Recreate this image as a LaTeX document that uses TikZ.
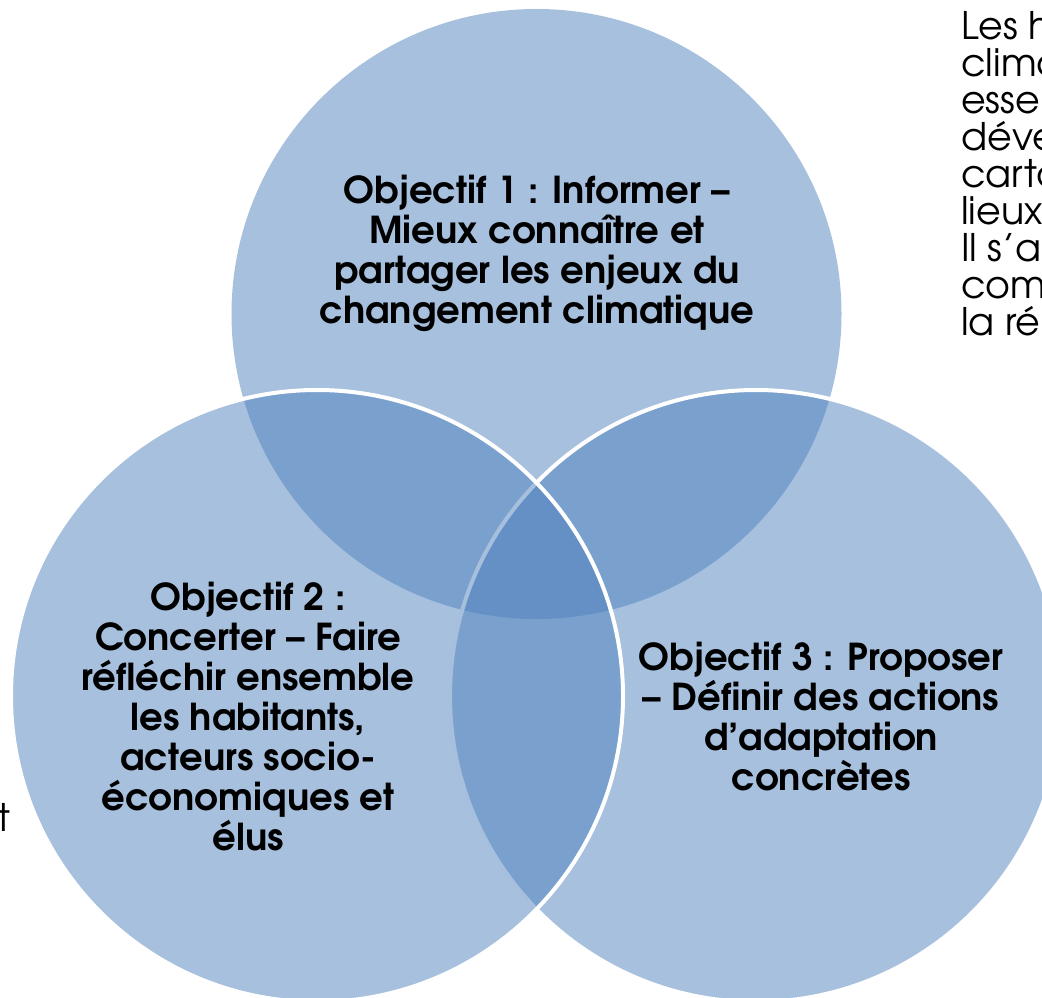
\documentclass[tikz,border=0pt]{standalone}
\usepackage{fontspec}
\setmainfont{TeX Gyre Adventor}
\definecolor{acc}{RGB}{79,129,189}
\begin{document}
\begin{tikzpicture}[x=0.75pt,y=-0.75pt,
  venn/.style={fill=acc, fill opacity=0.5},
  vennline/.style={draw=white, line width=3pt},
  obj/.style={font=\bfseries\fontsize{27.8}{30}\selectfont, align=center, text=black, inner sep=0pt},
  side/.style={font=\fontsize{28.5}{27.75}\selectfont, inner sep=0pt, text=black}]
\useasboundingbox (0,0) rectangle (1042,998);
\clip (0,0) rectangle (1042,998);
% top circle (no visible outline)
\fill[venn] (536.5,314) circle[radius=305];
% right circle
\fill[venn] (756,696) circle[radius=306];
\draw[vennline] (756,696) circle[radius=306];
% left circle
\fill[venn] (317,696) circle[radius=306];
\draw[vennline] (317,696) circle[radius=306];
% labels
\node[obj] (t1) at (537,253) {Objectif 1 : Informer –\\Mieux connaître et\\partager les enjeux du\\changement climatique};
\node[obj] (t2) at (248,717) {Objectif 2 :\\Concerter – Faire\\réfléchir ensemble\\les habitants,\\acteurs socio-\\économiques et\\élus};
\node[obj] (t3) at (821,717) {Objectif 3 : Proposer\\– Définir des actions\\d’adaptation\\concrètes};
% clipped side texts
\node[side, anchor=base west] (r1) at (961,40) {Les h};
\node[side, anchor=base west] (r2) at (961,77) {clima};
\node[side, anchor=base west] (r3) at (961,114) {esse};
\node[side, anchor=base west] (r4) at (961,151) {déve};
\node[side, anchor=base west] (r5) at (961,188) {carto};
\node[side, anchor=base west] (r6) at (961,225) {lieux};
\node[side, anchor=base west] (r7) at (961,262) {Il s’a};
\node[side, anchor=base west] (r8) at (961,299) {com};
\node[side, anchor=base west] (r9) at (961,336) {la ré};
\node[side, anchor=base east] (l1) at (11,831) {t};
\end{tikzpicture}
\end{document}
